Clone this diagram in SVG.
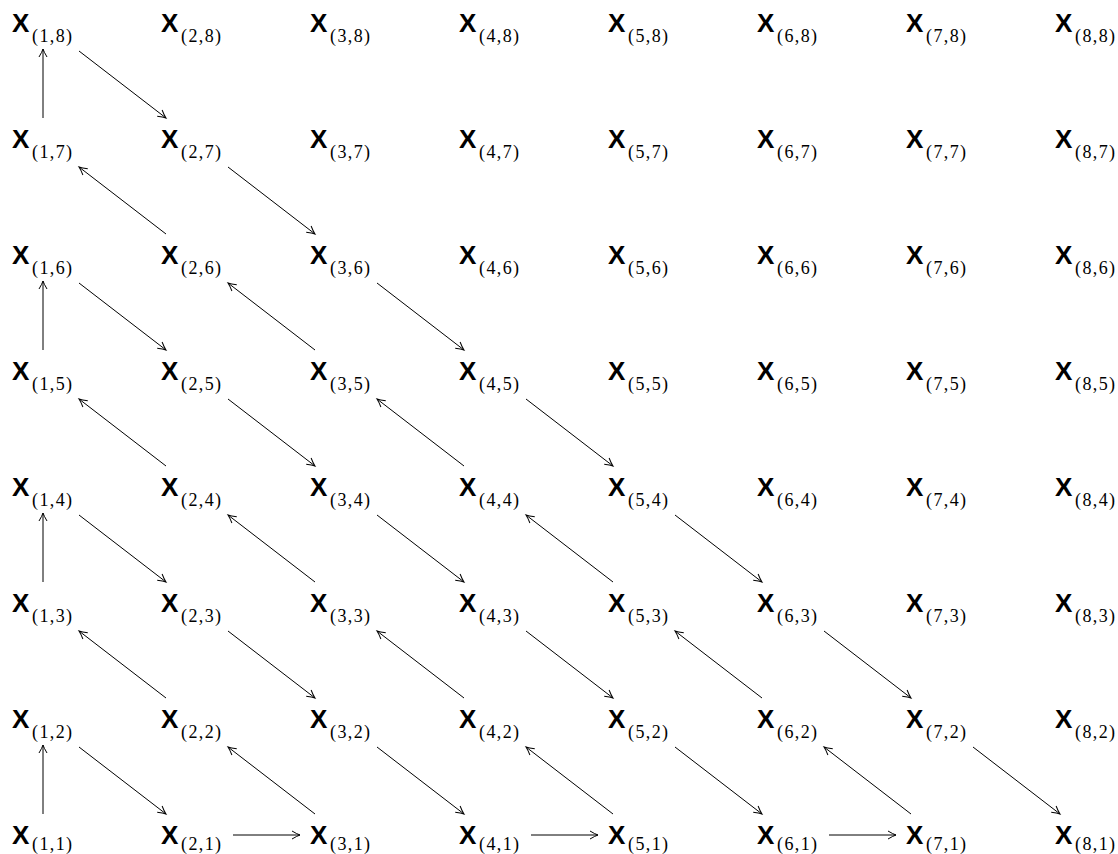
<svg xmlns="http://www.w3.org/2000/svg" width="1118" height="854" viewBox="0 0 1118 854">
<style>
.x{font-family:"Liberation Sans",Arial,sans-serif;font-weight:bold;font-size:26px;fill:#000}
.s{font-family:"Liberation Serif","Times New Roman",serif;font-size:18px;fill:#000}
.e line{stroke:#000;stroke-width:1;marker-end:url(#ah)}
</style>
<defs>
<marker id="ah" markerUnits="userSpaceOnUse" viewBox="-10 -6 12 12" markerWidth="12" markerHeight="12" refX="0" refY="0" orient="auto" overflow="visible">
<path d="M-8,-4 Q-3,-1 0,0 Q-3,1 -8,4" fill="none" stroke="#000" stroke-width="1"/>
</marker>
</defs>
<rect width="1118" height="854" fill="#fff"/>
<g id="connectors" class="e">
<line x1="43" y1="814" x2="43" y2="745"/>
<line x1="43" y1="582" x2="43" y2="513"/>
<line x1="43" y1="350" x2="43" y2="281"/>
<line x1="43" y1="118" x2="43" y2="49"/>
<line x1="233" y1="835" x2="300" y2="835"/>
<line x1="531" y1="835" x2="598" y2="835"/>
<line x1="829" y1="835" x2="896" y2="835"/>
<line x1="79" y1="747" x2="166" y2="814"/>
<line x1="79" y1="515" x2="166" y2="582"/>
<line x1="228" y1="631" x2="315" y2="698"/>
<line x1="377" y1="747" x2="464" y2="814"/>
<line x1="79" y1="283" x2="166" y2="350"/>
<line x1="228" y1="399" x2="315" y2="466"/>
<line x1="377" y1="515" x2="464" y2="582"/>
<line x1="526" y1="631" x2="613" y2="698"/>
<line x1="675" y1="747" x2="762" y2="814"/>
<line x1="79" y1="51" x2="166" y2="118"/>
<line x1="228" y1="167" x2="315" y2="234"/>
<line x1="377" y1="283" x2="464" y2="350"/>
<line x1="526" y1="399" x2="613" y2="466"/>
<line x1="675" y1="515" x2="762" y2="582"/>
<line x1="824" y1="631" x2="911" y2="698"/>
<line x1="973" y1="747" x2="1060" y2="814"/>
<line x1="315" y1="814" x2="228" y2="747"/>
<line x1="166" y1="698" x2="79" y2="631"/>
<line x1="613" y1="814" x2="526" y2="747"/>
<line x1="464" y1="698" x2="377" y2="631"/>
<line x1="315" y1="582" x2="228" y2="515"/>
<line x1="166" y1="466" x2="79" y2="399"/>
<line x1="911" y1="814" x2="824" y2="747"/>
<line x1="762" y1="698" x2="675" y2="631"/>
<line x1="613" y1="582" x2="526" y2="515"/>
<line x1="464" y1="466" x2="377" y2="399"/>
<line x1="315" y1="350" x2="228" y2="283"/>
<line x1="166" y1="234" x2="79" y2="167"/>
</g>
<g id="n1_8"><text class="x" x="12" y="32">X</text><text class="s" x="32" y="42" textLength="40">(1,8)</text></g>
<g id="n2_8"><text class="x" x="161" y="32">X</text><text class="s" x="181" y="42" textLength="40">(2,8)</text></g>
<g id="n3_8"><text class="x" x="310" y="32">X</text><text class="s" x="330" y="42" textLength="40">(3,8)</text></g>
<g id="n4_8"><text class="x" x="459" y="32">X</text><text class="s" x="479" y="42" textLength="40">(4,8)</text></g>
<g id="n5_8"><text class="x" x="608" y="32">X</text><text class="s" x="628" y="42" textLength="40">(5,8)</text></g>
<g id="n6_8"><text class="x" x="757" y="32">X</text><text class="s" x="777" y="42" textLength="40">(6,8)</text></g>
<g id="n7_8"><text class="x" x="906" y="32">X</text><text class="s" x="926" y="42" textLength="40">(7,8)</text></g>
<g id="n8_8"><text class="x" x="1055" y="32">X</text><text class="s" x="1075" y="42" textLength="40">(8,8)</text></g>
<g id="n1_7"><text class="x" x="12" y="148">X</text><text class="s" x="32" y="158" textLength="40">(1,7)</text></g>
<g id="n2_7"><text class="x" x="161" y="148">X</text><text class="s" x="181" y="158" textLength="40">(2,7)</text></g>
<g id="n3_7"><text class="x" x="310" y="148">X</text><text class="s" x="330" y="158" textLength="40">(3,7)</text></g>
<g id="n4_7"><text class="x" x="459" y="148">X</text><text class="s" x="479" y="158" textLength="40">(4,7)</text></g>
<g id="n5_7"><text class="x" x="608" y="148">X</text><text class="s" x="628" y="158" textLength="40">(5,7)</text></g>
<g id="n6_7"><text class="x" x="757" y="148">X</text><text class="s" x="777" y="158" textLength="40">(6,7)</text></g>
<g id="n7_7"><text class="x" x="906" y="148">X</text><text class="s" x="926" y="158" textLength="40">(7,7)</text></g>
<g id="n8_7"><text class="x" x="1055" y="148">X</text><text class="s" x="1075" y="158" textLength="40">(8,7)</text></g>
<g id="n1_6"><text class="x" x="12" y="264">X</text><text class="s" x="32" y="274" textLength="40">(1,6)</text></g>
<g id="n2_6"><text class="x" x="161" y="264">X</text><text class="s" x="181" y="274" textLength="40">(2,6)</text></g>
<g id="n3_6"><text class="x" x="310" y="264">X</text><text class="s" x="330" y="274" textLength="40">(3,6)</text></g>
<g id="n4_6"><text class="x" x="459" y="264">X</text><text class="s" x="479" y="274" textLength="40">(4,6)</text></g>
<g id="n5_6"><text class="x" x="608" y="264">X</text><text class="s" x="628" y="274" textLength="40">(5,6)</text></g>
<g id="n6_6"><text class="x" x="757" y="264">X</text><text class="s" x="777" y="274" textLength="40">(6,6)</text></g>
<g id="n7_6"><text class="x" x="906" y="264">X</text><text class="s" x="926" y="274" textLength="40">(7,6)</text></g>
<g id="n8_6"><text class="x" x="1055" y="264">X</text><text class="s" x="1075" y="274" textLength="40">(8,6)</text></g>
<g id="n1_5"><text class="x" x="12" y="380">X</text><text class="s" x="32" y="390" textLength="40">(1,5)</text></g>
<g id="n2_5"><text class="x" x="161" y="380">X</text><text class="s" x="181" y="390" textLength="40">(2,5)</text></g>
<g id="n3_5"><text class="x" x="310" y="380">X</text><text class="s" x="330" y="390" textLength="40">(3,5)</text></g>
<g id="n4_5"><text class="x" x="459" y="380">X</text><text class="s" x="479" y="390" textLength="40">(4,5)</text></g>
<g id="n5_5"><text class="x" x="608" y="380">X</text><text class="s" x="628" y="390" textLength="40">(5,5)</text></g>
<g id="n6_5"><text class="x" x="757" y="380">X</text><text class="s" x="777" y="390" textLength="40">(6,5)</text></g>
<g id="n7_5"><text class="x" x="906" y="380">X</text><text class="s" x="926" y="390" textLength="40">(7,5)</text></g>
<g id="n8_5"><text class="x" x="1055" y="380">X</text><text class="s" x="1075" y="390" textLength="40">(8,5)</text></g>
<g id="n1_4"><text class="x" x="12" y="496">X</text><text class="s" x="32" y="506" textLength="40">(1,4)</text></g>
<g id="n2_4"><text class="x" x="161" y="496">X</text><text class="s" x="181" y="506" textLength="40">(2,4)</text></g>
<g id="n3_4"><text class="x" x="310" y="496">X</text><text class="s" x="330" y="506" textLength="40">(3,4)</text></g>
<g id="n4_4"><text class="x" x="459" y="496">X</text><text class="s" x="479" y="506" textLength="40">(4,4)</text></g>
<g id="n5_4"><text class="x" x="608" y="496">X</text><text class="s" x="628" y="506" textLength="40">(5,4)</text></g>
<g id="n6_4"><text class="x" x="757" y="496">X</text><text class="s" x="777" y="506" textLength="40">(6,4)</text></g>
<g id="n7_4"><text class="x" x="906" y="496">X</text><text class="s" x="926" y="506" textLength="40">(7,4)</text></g>
<g id="n8_4"><text class="x" x="1055" y="496">X</text><text class="s" x="1075" y="506" textLength="40">(8,4)</text></g>
<g id="n1_3"><text class="x" x="12" y="612">X</text><text class="s" x="32" y="622" textLength="40">(1,3)</text></g>
<g id="n2_3"><text class="x" x="161" y="612">X</text><text class="s" x="181" y="622" textLength="40">(2,3)</text></g>
<g id="n3_3"><text class="x" x="310" y="612">X</text><text class="s" x="330" y="622" textLength="40">(3,3)</text></g>
<g id="n4_3"><text class="x" x="459" y="612">X</text><text class="s" x="479" y="622" textLength="40">(4,3)</text></g>
<g id="n5_3"><text class="x" x="608" y="612">X</text><text class="s" x="628" y="622" textLength="40">(5,3)</text></g>
<g id="n6_3"><text class="x" x="757" y="612">X</text><text class="s" x="777" y="622" textLength="40">(6,3)</text></g>
<g id="n7_3"><text class="x" x="906" y="612">X</text><text class="s" x="926" y="622" textLength="40">(7,3)</text></g>
<g id="n8_3"><text class="x" x="1055" y="612">X</text><text class="s" x="1075" y="622" textLength="40">(8,3)</text></g>
<g id="n1_2"><text class="x" x="12" y="728">X</text><text class="s" x="32" y="738" textLength="40">(1,2)</text></g>
<g id="n2_2"><text class="x" x="161" y="728">X</text><text class="s" x="181" y="738" textLength="40">(2,2)</text></g>
<g id="n3_2"><text class="x" x="310" y="728">X</text><text class="s" x="330" y="738" textLength="40">(3,2)</text></g>
<g id="n4_2"><text class="x" x="459" y="728">X</text><text class="s" x="479" y="738" textLength="40">(4,2)</text></g>
<g id="n5_2"><text class="x" x="608" y="728">X</text><text class="s" x="628" y="738" textLength="40">(5,2)</text></g>
<g id="n6_2"><text class="x" x="757" y="728">X</text><text class="s" x="777" y="738" textLength="40">(6,2)</text></g>
<g id="n7_2"><text class="x" x="906" y="728">X</text><text class="s" x="926" y="738" textLength="40">(7,2)</text></g>
<g id="n8_2"><text class="x" x="1055" y="728">X</text><text class="s" x="1075" y="738" textLength="40">(8,2)</text></g>
<g id="n1_1"><text class="x" x="12" y="844">X</text><text class="s" x="32" y="850" textLength="40">(1,1)</text></g>
<g id="n2_1"><text class="x" x="161" y="844">X</text><text class="s" x="181" y="850" textLength="40">(2,1)</text></g>
<g id="n3_1"><text class="x" x="310" y="844">X</text><text class="s" x="330" y="850" textLength="40">(3,1)</text></g>
<g id="n4_1"><text class="x" x="459" y="844">X</text><text class="s" x="479" y="850" textLength="40">(4,1)</text></g>
<g id="n5_1"><text class="x" x="608" y="844">X</text><text class="s" x="628" y="850" textLength="40">(5,1)</text></g>
<g id="n6_1"><text class="x" x="757" y="844">X</text><text class="s" x="777" y="850" textLength="40">(6,1)</text></g>
<g id="n7_1"><text class="x" x="906" y="844">X</text><text class="s" x="926" y="850" textLength="40">(7,1)</text></g>
<g id="n8_1"><text class="x" x="1055" y="844">X</text><text class="s" x="1075" y="850" textLength="40">(8,1)</text></g>
</svg>
